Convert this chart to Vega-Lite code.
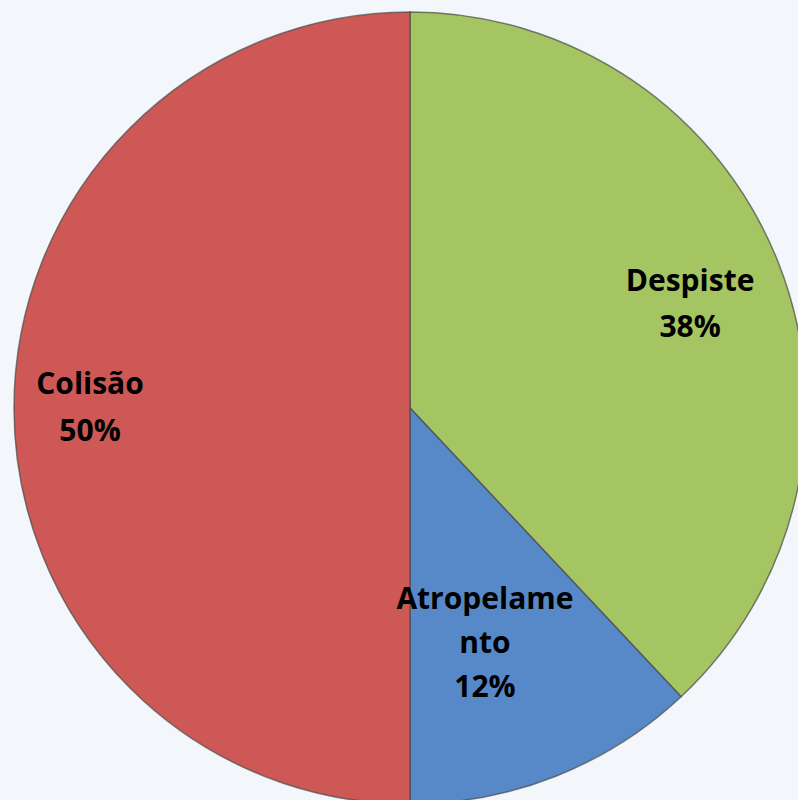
{
  "$schema": "https://vega.github.io/schema/vega-lite/v6.json",
  "width": 820,
  "height": 816,
  "padding": 0,
  "autosize": "none",
  "background": "#F3F7FC",
  "config": {"view": {"stroke": null}},
  "data": {"values": [
    {"cat": "Despiste", "value": 38},
    {"cat": "Atropelamento", "value": 12},
    {"cat": "Colisão", "value": 50}
  ]},
  "transform": [
    {"calculate": "indexof(['Despiste','Atropelamento','Colisão'], datum.cat)", "as": "ord"},
    {"stack": "value", "groupby": [], "sort": [{"field": "ord", "order": "ascending"}], "as": ["v0", "v1"]},
    {"calculate": "(datum.v0 + datum.v1) / 2", "as": "vmid"},
    {"calculate": "datum.cat == 'Atropelamento' ? ['Atropelame', 'nto', datum.value + '%'] : [datum.cat, datum.value + '%']", "as": "label"}
  ],
  "layer": [
    {
      "mark": {"type": "arc", "outerRadius": 396, "stroke": "#4a4a4a", "strokeWidth": 1.5, "strokeOpacity": 0.7},
      "encoding": {
        "theta": {"field": "v0", "type": "quantitative", "scale": {"domain": [0, 100], "range": [0, 6.283185307179586]}},
        "theta2": {"field": "v1"},
        "color": {"field": "cat", "type": "nominal", "legend": null,
          "scale": {"domain": ["Despiste", "Atropelamento", "Colisão"], "range": ["#A5C562", "#5789C8", "#CD5855"]}}
      }
    },
    {
      "transform": [{"filter": "datum.cat == 'Despiste'"}],
      "mark": {"type": "text", "radius": 298, "dx": 3, "dy": -16, "font": "Open Sans", "fontWeight": "bold", "fontSize": 30, "lineHeight": 46, "color": "#000000", "baseline": "middle"},
      "encoding": {
        "theta": {"field": "vmid", "type": "quantitative", "scale": {"domain": [0, 100], "range": [0, 6.283185307179586]}},
        "text": {"field": "label"}
      }
    },
    {
      "transform": [{"filter": "datum.cat == 'Colisão'"}],
      "mark": {"type": "text", "radius": 320, "dy": -23, "font": "Open Sans", "fontWeight": "bold", "fontSize": 30, "lineHeight": 47, "color": "#000000", "baseline": "middle"},
      "encoding": {
        "theta": {"field": "vmid", "type": "quantitative", "scale": {"domain": [0, 100], "range": [0, 6.283185307179586]}},
        "text": {"field": "label"}
      }
    },
    {
      "transform": [{"filter": "datum.cat == 'Atropelamento'"}],
      "mark": {"type": "text", "radius": 247, "dx": -16, "dy": -38, "font": "Open Sans", "fontWeight": "bold", "fontSize": 30, "lineHeight": 44, "color": "#000000", "baseline": "middle"},
      "encoding": {
        "theta": {"field": "vmid", "type": "quantitative", "scale": {"domain": [0, 100], "range": [0, 6.283185307179586]}},
        "text": {"field": "label"}
      }
    }
  ]
}
